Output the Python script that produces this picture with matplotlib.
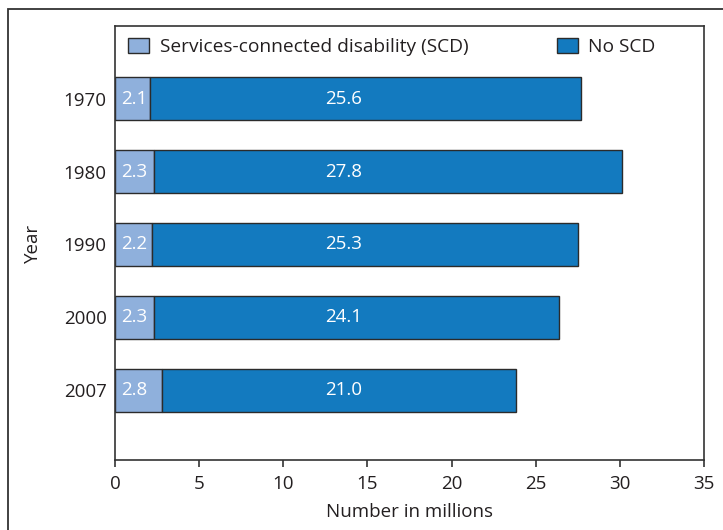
import matplotlib
matplotlib.use("Agg")
import matplotlib.pyplot as plt
from matplotlib.patches import Rectangle

years = ["1970", "1980", "1990", "2000", "2007"]
scd = [2.1, 2.3, 2.2, 2.3, 2.8]
no_scd = [25.6, 27.8, 25.3, 24.1, 21.0]
xticks = [0, 5, 10, 15, 20, 25, 30, 35]

plt.rcParams['font.family'] = ['Open Sans', 'DejaVu Sans']
txt = '#231F20'
light = '#8FB0DC'
dark = '#137ABF'
edge = '#2b2b2b'

W, H = 723, 530
fig = plt.figure(figsize=(W/100, H/100), dpi=100)
# outer frame
fig.patches.append(Rectangle((8/W, -0.1), 1.2, (H-9)/H + 0.1, transform=fig.transFigure,
                             fill=False, edgecolor='#333333', linewidth=1.3))
ax = fig.add_axes([115/W, 1 - 460/H, (704-115)/W, (460-26)/H])

pos = list(range(len(years)))
h = 0.59
b1 = ax.barh(pos, scd, height=h, color=light, edgecolor=edge, linewidth=1.0,
             label='Services-connected disability (SCD)')
b2 = ax.barh(pos, no_scd, left=scd, height=h, color=dark, edgecolor=edge, linewidth=1.0,
             label='No SCD')
for p, a, b in zip(pos, scd, no_scd):
    ax.text(1.15, p, f"{a:.1f}", color='white', ha='center', va='center', fontsize=13.5)
    ax.text(13.6, p, f"{b:.1f}", color='white', ha='center', va='center', fontsize=13.5)

ax.set_ylim(4.96, -1.0)
ax.set_xlim(0, 35)
ax.set_xticks(xticks)
ax.set_yticks(pos)
ax.set_yticklabels(years)
ax.tick_params(axis='x', direction='out', length=5, width=1.2, colors='#333333',
               labelcolor=txt, labelsize=13.5, pad=6)
ax.tick_params(axis='y', length=0, labelcolor=txt, labelsize=13.5, pad=6)
for s in ax.spines.values():
    s.set_color('#333333')
    s.set_linewidth(1.2)
ax.set_xlabel('Number in millions', color=txt, fontsize=13.5, labelpad=7)
fig.text(33/W, 1 - 243/H, 'Year', rotation=90, ha='center', va='center', color=txt, fontsize=13.5)

leg = ax.legend(handles=[b1, b2], loc='upper left', bbox_to_anchor=(-0.007, 1.012), ncol=2,
                frameon=False, fontsize=13.8, handlelength=1.1, handleheight=0.8,
                columnspacing=4.6, handletextpad=0.55, labelcolor=txt)

fig.savefig('out.png', dpi=100)
